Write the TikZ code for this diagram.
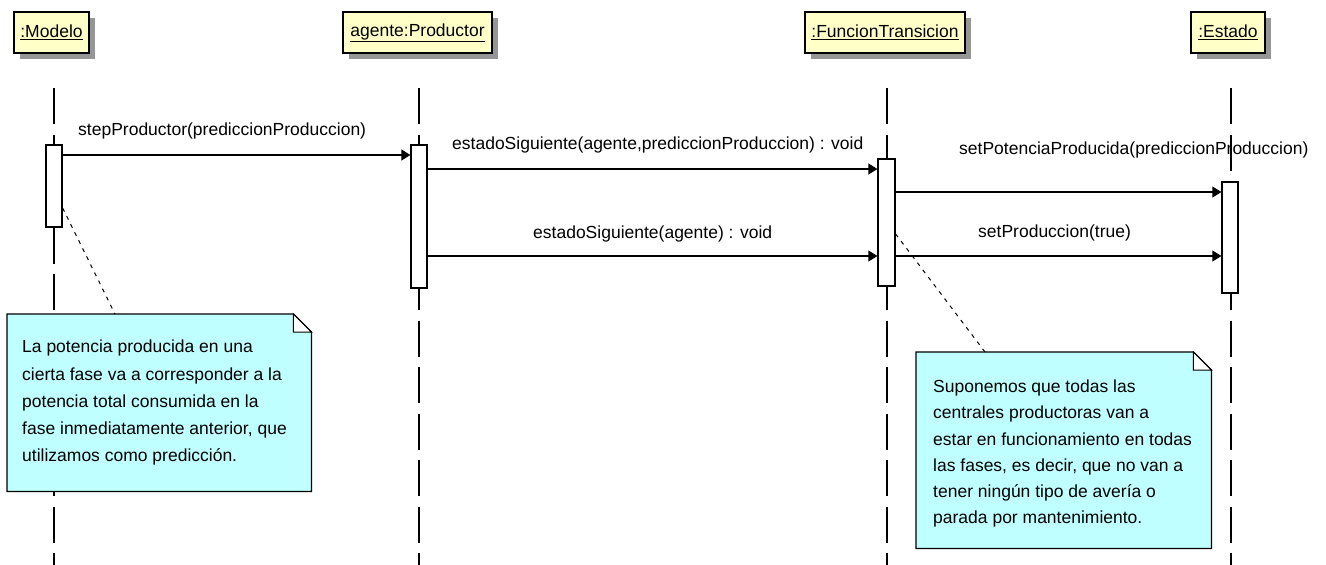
\documentclass[tikz,border=0pt]{standalone}
\usepackage{fontspec}
\setmainfont{Liberation Sans}
\usetikzlibrary{arrows.meta,shadows,calc}

\definecolor{hdrfill}{RGB}{255,255,200}
\definecolor{notefill}{RGB}{192,255,255}
\definecolor{shadowgray}{RGB}{150,150,150}

\tikzset{
  txt/.style={font=\fontsize{17.5}{21}\selectfont},
  header/.style={txt, draw=black, line width=1.3pt, fill=hdrfill, minimum height=41pt,
    inner sep=0pt, drop shadow={shadow xshift=6pt, shadow yshift=-6pt, fill=shadowgray, opacity=1}},
  lifeline/.style={line width=1.3pt, dash pattern=on 36pt off 10.5pt},
  activation/.style={draw=black, line width=1.3pt, fill=white, minimum width=16pt, inner sep=0pt},
  msg/.style={line width=1.3pt, -{Triangle[length=9pt,width=11pt]}},
  msglabel/.style={txt, anchor=west, inner sep=0pt},
  noteframe/.style={inner sep=0pt, anchor=north west},
  notetext/.style={anchor=west, inner sep=0pt, align=left},
  notelink/.style={line width=1pt, dash pattern=on 4pt off 5pt},
}

\begin{document}
\begin{tikzpicture}[x=1pt, y=-1pt]
\useasboundingbox (0,0) rectangle (1326,565);

% object headers
\node[header, minimum width=75pt]  (hm) at (51.5,32.5) {\underline{:Modelo}};
\node[header, minimum width=149pt] (hp) at (417.5,32.5) {\underline{agente:Productor}};
\node[header, minimum width=160pt] (hf) at (885,32.5) {\underline{:FuncionTransicion}};
\node[header, minimum width=74pt]  (he) at (1228,32.5) {\underline{:Estado}};

% message labels (lifelines run over them)
\node[msglabel] (l1) at (78,131)  {stepProductor(prediccionProduccion)};
\node[msglabel] (l2) at (452,145) {estadoSiguiente(agente,prediccionProduccion) : void};
\node[msglabel] (l3) at (533,234) {estadoSiguiente(agente) : void};
\node[msglabel] (l4) at (959,150) {setPotenciaProducida(prediccionProduccion)};
\node[msglabel] (l5) at (978,233) {setProduccion(true)};

% lifelines
\coordinate (mtop) at (54,88);   \coordinate (mbot) at (54,565);
\coordinate (ptop) at (419,88);  \coordinate (pbot) at (419,565);
\coordinate (ftop) at (887,88);  \coordinate (fbot) at (887,565);
\coordinate (etop) at (1231,88); \coordinate (ebot) at (1231,565);
\draw[lifeline] (mtop) -- (mbot);
\draw[lifeline] (ptop) -- (pbot);
\draw[lifeline] (ftop) -- (fbot);
\draw[lifeline] (etop) -- (ebot);

% activation bars
\node[activation, minimum height=82pt]  (am) at (54,186) {};
\node[activation, minimum height=143pt] (ap) at (419,216.5) {};
\node[activation, minimum height=127pt, minimum width=17pt] (af) at (886.5,222.5) {};
\node[activation, minimum height=111pt] (ae) at (1230,237.5) {};

% messages
\draw[msg] (am.east |- 0,155) -- (ap.west |- 0,155);
\draw[msg] (ap.east |- 0,169) -- (af.west |- 0,169);
\draw[msg] (ap.east |- 0,256) -- (af.west |- 0,256);
\draw[msg] (af.east |- 0,192) -- (ae.west |- 0,192);
\draw[msg] (af.east |- 0,256) -- (ae.west |- 0,256);

% notes
\node[noteframe, minimum width=304pt, minimum height=177pt] (n1) at (7,314) {};
\node[noteframe, minimum width=295pt, minimum height=196pt] (n2) at (916,352) {};
\foreach \n in {n1,n2}{
  \filldraw[fill=notefill, line width=1.3pt]
    (\n.north west) -- ($(\n.north east)+(-18,0)$) -- ($(\n.north east)+(0,18)$)
    -- (\n.south east) -- (\n.south west) -- cycle;
  \filldraw[fill=white, line width=1pt]
    ($(\n.north east)+(-18,0)$) -- ($(\n.north east)+(-18,18)$) -- ($(\n.north east)+(0,18)$) -- cycle;
}
\node[notetext, font=\fontsize{17.5}{27.2}\selectfont] (t1) at ($(n1.west)+(15,0)$)
  {La potencia producida en una\\cierta fase va a corresponder a la\\potencia total consumida en la\\fase inmediatamente anterior, que\\utilizamos como predicción.};
\node[notetext, font=\fontsize{17.5}{26.3}\selectfont] (t2) at ($(n2.west)+(17,3.5)$)
  {Suponemos que todas las\\centrales productoras van a\\estar en funcionamiento en todas\\las fases, es decir, que no van a\\tener ningún tipo de avería o\\parada por mantenimiento.};

% note anchors
\draw[notelink] (am.east |- 0,208) -- (n1.north -| 115,0);
\draw[notelink] (af.east |- 0,234) -- (n2.north -| 985,0);
\end{tikzpicture}
\end{document}
